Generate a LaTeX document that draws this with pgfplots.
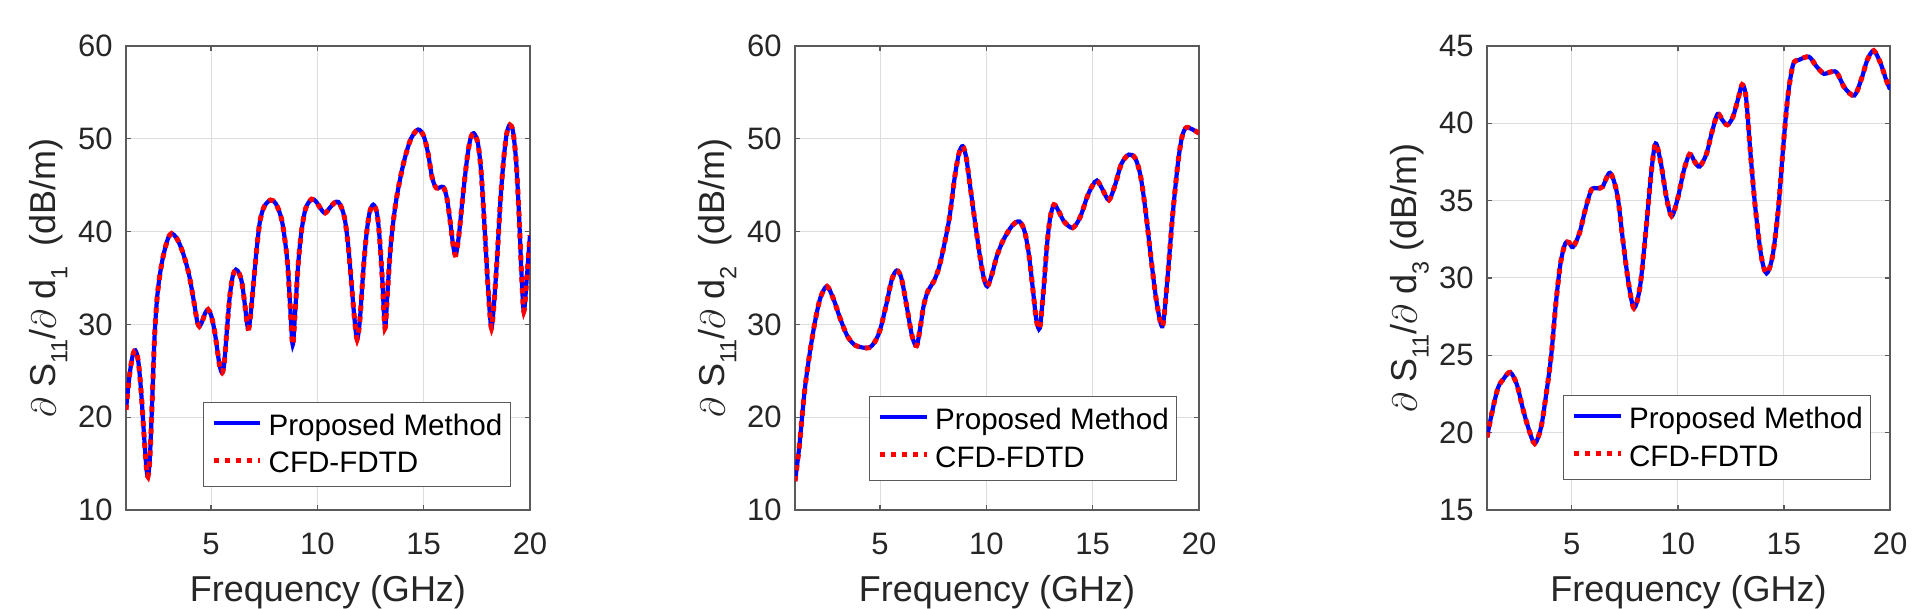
\documentclass[border=0pt]{standalone}
\usepackage{fontspec}
\setmainfont{Liberation Sans}
\usepackage{pgfplots}
\usepackage{pgfplotstable}
\pgfplotsset{compat=1.18}
\definecolor{axisgray}{RGB}{90,90,90}
\definecolor{gridgray}{RGB}{222,222,222}
\definecolor{labgray}{RGB}{38,38,38}
\newcommand\sub[1]{\raisebox{-0.33em}{\fontsize{11.7}{13}\selectfont #1}}

\pgfplotstableread{
x y
1.00 20.8
1.15 24.2
1.30 26.5
1.44 27.2
1.58 26.0
1.72 22.5
1.85 18.0
1.95 14.8
2.03 13.6
2.12 15.5
2.22 21.0
2.34 28.5
2.45 32.5
2.56 34.8
2.70 36.8
2.85 38.3
3.00 39.4
3.15 39.8
3.35 39.4
3.55 38.5
3.75 37.2
3.95 35.5
4.10 33.7
4.24 31.8
4.35 30.3
4.45 29.8
4.58 30.3
4.72 31.2
4.86 31.6
5.00 31.0
5.15 29.5
5.28 27.5
5.40 25.6
5.52 24.8
5.62 25.8
5.75 29.5
5.88 33.0
6.02 35.2
6.17 35.9
6.32 35.5
6.45 34.5
6.58 32.3
6.70 30.0
6.78 29.6
6.88 31.5
7.00 34.5
7.15 38.2
7.30 41.1
7.50 42.7
7.80 43.4
8.05 43.0
8.30 41.5
8.45 39.5
8.60 36.5
8.72 32.0
8.84 27.8
8.96 31.5
9.10 36.5
9.25 40.0
9.45 42.5
9.73 43.5
9.95 43.2
10.15 42.5
10.36 42.0
10.60 42.6
10.80 43.1
10.98 43.2
11.15 42.5
11.30 41.2
11.45 38.5
11.60 34.5
11.75 30.5
11.87 28.4
12.00 30.5
12.15 35.5
12.30 39.5
12.45 42.0
12.63 42.9
12.80 42.0
12.92 39.5
13.05 35.0
13.18 29.6
13.30 33.5
13.45 38.5
13.65 42.5
13.85 45.2
14.10 47.8
14.40 50.0
14.74 51.0
15.00 50.3
15.20 48.5
15.40 45.8
15.60 44.7
15.92 44.8
16.10 43.5
16.25 41.0
16.40 38.3
16.51 37.5
16.65 39.5
16.85 44.0
17.05 48.0
17.20 50.0
17.36 50.6
17.55 49.5
17.70 46.5
17.85 41.0
18.00 35.0
18.10 31.5
18.19 29.6
18.30 32.0
18.45 37.0
18.60 43.0
18.75 47.5
18.90 50.5
19.05 51.5
19.20 50.8
19.35 47.5
19.48 42.0
19.60 35.5
19.71 31.4
19.85 35.0
20.00 39.6
}\dataA

\pgfplotstableread{
x y
1.00 13.1
1.20 16.8
1.45 22.8
1.70 27.0
1.95 30.4
2.20 32.9
2.50 34.1
2.80 32.8
3.10 30.8
3.45 28.8
3.80 27.8
4.20 27.5
4.50 27.5
4.75 28.1
5.00 29.4
5.30 32.2
5.55 34.8
5.78 35.8
6.00 35.0
6.25 32.0
6.50 28.8
6.72 27.7
6.90 29.8
7.05 32.0
7.25 33.6
7.52 34.6
7.77 36.1
8.02 38.6
8.27 41.6
8.52 46.0
8.72 48.5
8.89 49.2
9.05 48.0
9.20 45.5
9.45 41.3
9.70 37.3
9.88 35.0
10.04 34.1
10.25 35.3
10.50 37.4
10.80 39.1
11.20 40.6
11.55 41.1
11.80 40.0
12.00 37.5
12.20 33.5
12.35 30.5
12.51 29.6
12.68 33.5
12.85 38.5
13.00 41.5
13.18 42.9
13.40 42.2
13.65 41.1
14.05 40.4
14.40 41.5
14.75 43.8
15.00 45.0
15.20 45.5
15.45 44.6
15.76 43.4
16.05 45.0
16.35 47.3
16.70 48.3
17.00 47.9
17.25 46.0
17.50 42.0
17.75 37.0
18.00 32.5
18.28 29.8
18.50 34.5
18.75 41.5
19.00 47.2
19.20 50.2
19.40 51.2
19.70 51.0
20.00 50.6
}\dataB

\pgfplotstableread{
x y
1.00 19.7
1.25 21.4
1.52 22.9
1.79 23.5
2.10 23.9
2.41 23.1
2.68 21.6
2.95 20.3
3.25 19.3
3.54 20.3
3.75 22.1
4.02 24.9
4.25 28.4
4.46 30.9
4.68 32.2
4.86 32.3
5.05 32.0
5.36 32.9
5.63 34.4
5.92 35.7
6.20 35.8
6.45 35.9
6.80 36.8
7.14 35.4
7.41 32.4
7.68 29.6
7.93 28.05
8.21 29.4
8.48 32.9
8.75 36.9
8.95 38.7
9.20 37.4
9.46 35.2
9.71 34.0
10.00 35.2
10.27 36.9
10.55 38.0
10.80 37.5
11.02 37.2
11.34 38.0
11.60 39.4
11.87 40.6
12.10 40.2
12.33 39.9
12.59 40.4
12.86 41.7
13.03 42.5
13.21 41.7
13.43 37.9
13.66 34.4
13.93 31.4
14.18 30.3
14.46 31.4
14.73 34.4
14.96 38.4
15.18 41.7
15.43 43.8
15.71 44.1
16.18 44.3
16.52 43.7
16.88 43.2
17.14 43.3
17.48 43.3
17.86 42.3
18.32 41.8
18.66 42.9
18.93 44.1
19.23 44.7
19.55 43.9
19.82 42.8
20.00 42.2
}\dataC

\pgfplotsset{
  panel/.style={
    scale only axis, width=202pt, height=232pt,
    xmin=1, xmax=20, xtick={5,10,15,20},
    /pgf/number format/assume math mode=true,
    tick align=inside, major tick length=2.6pt,
    grid=major, grid style={line width=0.5pt, draw=gridgray},
    axis line style={draw=axisgray, line width=0.6pt},
    every tick/.style={draw=axisgray, line width=0.6pt},
    ticklabel style={font=\fontsize{15.5}{18}\selectfont, text=labgray},
    xticklabel style={inner sep=0pt, yshift=-11.3pt},
    yticklabel style={inner sep=0pt, xshift=-6.5pt},
    xlabel={Frequency (GHz)},
    xlabel style={at={(axis description cs:0.5,-0.1976)}, anchor=base, font=\fontsize{18}{21}\selectfont, text=labgray, inner sep=0pt},
    ylabel style={at={(axis description cs:-0.1745,0.5)}, anchor=base, font=\fontsize{18}{21}\selectfont, text=labgray, inner sep=0pt},
    legend image code/.code={\draw[##1] (0pt,6.2pt) -- (23.3pt,6.2pt);},
    legend style={anchor=south east, draw=axisgray, line width=0.5pt, fill=white,
      inner xsep=3.9pt, inner ysep=3pt, row sep=1.6pt,
      font=\fontsize{14.8}{17}\selectfont,
      nodes={inner sep=0pt, anchor=base west, text height=13.5pt, text depth=3.7pt},
      /tikz/every odd column/.append style={column sep=2.95pt}},
  },
  prop/.style={blue, line width=2.1pt, smooth},
  cfd/.style={red, line width=2.5pt, dash pattern=on 2.6pt off 2.9pt, smooth},
}

\begin{document}
\begin{tikzpicture}
\useasboundingbox (0,0) rectangle (960.5pt,304.5pt);

\begin{axis}[panel, at={(63pt,49.5pt)}, anchor=south west,
  ymin=10, ymax=60, ytick={10,20,...,60},
  ylabel={$\partial$ S\sub{11}/$\partial$ d\sub{1}\ \ (dB/m)},
  legend style={at={(0.952,0.050)}}]
\addplot[prop] table {\dataA};
\addplot[cfd] table {\dataA};
\legend{Proposed Method, CFD-FDTD}
\end{axis}

\begin{axis}[panel, at={(397.5pt,49.5pt)}, anchor=south west,
  ymin=10, ymax=60, ytick={10,20,...,60},
  ylabel={$\partial$ S\sub{11}/$\partial$ d\sub{2}\ \ (dB/m)},
  legend style={at={(0.946,0.0625)}}]
\addplot[prop] table {\dataB};
\addplot[cfd] table {\dataB};
\legend{Proposed Method, CFD-FDTD}
\end{axis}

\begin{axis}[panel, at={(743.5pt,49.5pt)}, anchor=south west, width=201.5pt,
  ymin=15, ymax=45, ytick={15,20,...,45},
  ylabel={$\partial$ S\sub{11}/$\partial$ d\sub{3}\ (dB/m)},
  legend style={at={(0.953,0.0646)}}]
\addplot[prop] table {\dataC};
\addplot[cfd] table {\dataC};
\legend{Proposed Method, CFD-FDTD}
\end{axis}
\end{tikzpicture}
\end{document}
